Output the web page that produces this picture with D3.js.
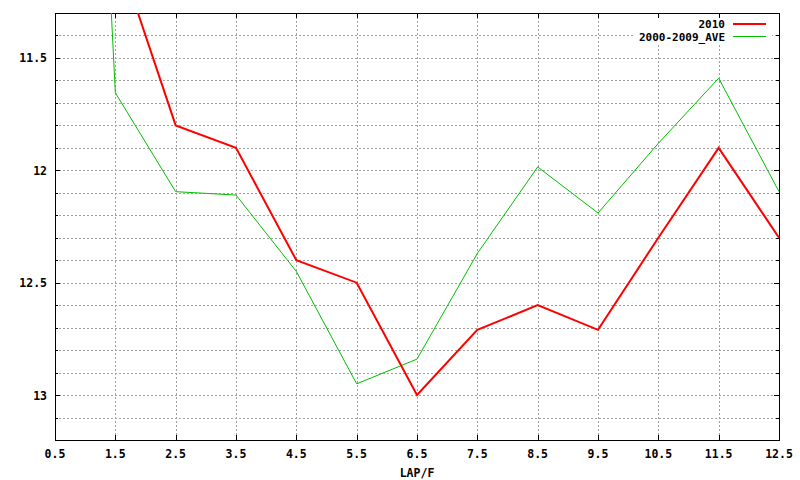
<!DOCTYPE html>
<html>
<head>
<meta charset="utf-8">
<script src="https://cdn.jsdelivr.net/npm/d3@7"></script>
<style>
  html, body { margin: 0; padding: 0; background: #fff; }
  svg text { font-family: "DejaVu Sans Mono", "Liberation Mono", monospace; font-weight: bold; font-size: 11.5px; fill: #000; }
  svg text.key { font-size: 11px; }
</style>
</head>
<body>
<svg id="chart" width="800" height="480"></svg>
<script>
// ---- data ----
const laps = [0.5, 1.5, 2.5, 3.5, 4.5, 5.5, 6.5, 7.5, 8.5, 9.5, 10.5, 11.5, 12.5];
const series2010 = [null, 11.0, 11.80, 11.90, 12.40, 12.50, 13.00, 12.71, 12.60, 12.71, 12.30, 11.90, 12.30];
const seriesAve = [6.3, 11.655, 12.095, 12.11, 12.45, 12.95, 12.84, 12.37, 11.985, 12.19, 11.88, 11.59, 12.095];
const seriesNames = ["2010", "2000-2009_AVE"];
const xTicks = [0.5, 1.5, 2.5, 3.5, 4.5, 5.5, 6.5, 7.5, 8.5, 9.5, 10.5, 11.5, 12.5];
const yMajorTicks = [11.5, 12, 12.5, 13];
const yMinorTicks = [11.4, 11.5, 11.6, 11.7, 11.8, 11.9, 12, 12.1, 12.2, 12.3, 12.4, 12.5, 12.6, 12.7, 12.8, 12.9, 13, 13.1];
const xLabel = "LAP/F";

// ---- layout ----
const L = 55, R = 779, T = 13, B = 440;
const svg = d3.select("#chart");
const x = d3.scaleLinear().domain([0.5, 12.5]).range([L, R]);
const y = d3.scaleLinear().domain([11.3, 13.2]).range([T, B]);

// grid
const grid = svg.append("g").attr("stroke", "#a0a0a0").attr("stroke-width", 1).attr("stroke-dasharray", "2,2").attr("shape-rendering", "crispEdges");
grid.selectAll(".hg").data(yMinorTicks).join("line")
  .attr("x1", L).attr("x2", R).attr("y1", d => Math.round(y(d)) + 0.5).attr("y2", d => Math.round(y(d)) + 0.5);
grid.selectAll(".vg").data(xTicks.slice(1, -1)).join("line")
  .attr("y1", T).attr("y2", B).attr("x1", d => Math.round(x(d)) + 0.5).attr("x2", d => Math.round(x(d)) + 0.5);

// opaque key box
svg.append("rect").attr("x", 633).attr("y", 18).attr("width", 139).attr("height", 25).attr("fill", "#fff");

// ticks
const tk = svg.append("g").attr("stroke", "#000").attr("stroke-width", 1).attr("shape-rendering", "crispEdges");
yMinorTicks.forEach(v => {
  const len = yMajorTicks.includes(v) ? 5 : 3;
  const yy = Math.round(y(v)) + 0.5;
  tk.append("line").attr("x1", L).attr("x2", L + len).attr("y1", yy).attr("y2", yy);
  tk.append("line").attr("x1", R).attr("x2", R - len).attr("y1", yy).attr("y2", yy);
});
xTicks.forEach(v => {
  const xx = Math.round(x(v)) + 0.5;
  tk.append("line").attr("x1", xx).attr("x2", xx).attr("y1", B).attr("y2", B - 5);
  tk.append("line").attr("x1", xx).attr("x2", xx).attr("y1", T).attr("y2", T + 5);
});

// frame
svg.append("rect").attr("x", L + 0.5).attr("y", T + 0.5).attr("width", R - L).attr("height", B - T)
  .attr("fill", "none").attr("stroke", "#000").attr("stroke-width", 1).attr("shape-rendering", "crispEdges");

// tick labels
svg.append("g").selectAll("text").data(yMajorTicks).join("text")
  .attr("x", 47).attr("y", d => y(d) + 4.5).attr("text-anchor", "end").text(d => d);
svg.append("g").selectAll("text").data(xTicks).join("text")
  .attr("x", d => x(d)).attr("y", 458).attr("text-anchor", "middle").text(d => d.toFixed(1));
svg.append("text").attr("x", (L + R) / 2).attr("y", 477).attr("text-anchor", "middle").text(xLabel);

// clip
svg.append("clipPath").attr("id", "clip").append("rect").attr("x", L).attr("y", T).attr("width", R - L + 1).attr("height", B - T);

const line = d3.line().defined(d => d[1] != null).x(d => x(d[0])).y(d => y(d[1]));
const g = svg.append("g").attr("clip-path", "url(#clip)");
g.append("path").datum(laps.map((l, i) => [l, seriesAve[i]])).attr("d", line)
  .attr("fill", "none").attr("stroke", "#00c000").attr("stroke-width", 1);
g.append("path").datum(laps.map((l, i) => [l, series2010[i]])).attr("d", line)
  .attr("fill", "none").attr("stroke", "#ff0000").attr("stroke-width", 2);

// legend
const colors = ["#ff0000", "#00c000"], widths = [2, 1];
seriesNames.forEach((n, i) => {
  const yy = 24 + i * 13;
  svg.append("text").attr("class", "key").attr("x", 725).attr("y", yy + 4).attr("text-anchor", "end").text(n);
  const ly = widths[i] % 2 ? yy - 0.5 : yy;
  svg.append("line").attr("x1", 733).attr("x2", 766).attr("y1", ly).attr("y2", ly)
    .attr("stroke", colors[i]).attr("stroke-width", widths[i]).attr("shape-rendering", "crispEdges");
});
</script>
</body>
</html>
